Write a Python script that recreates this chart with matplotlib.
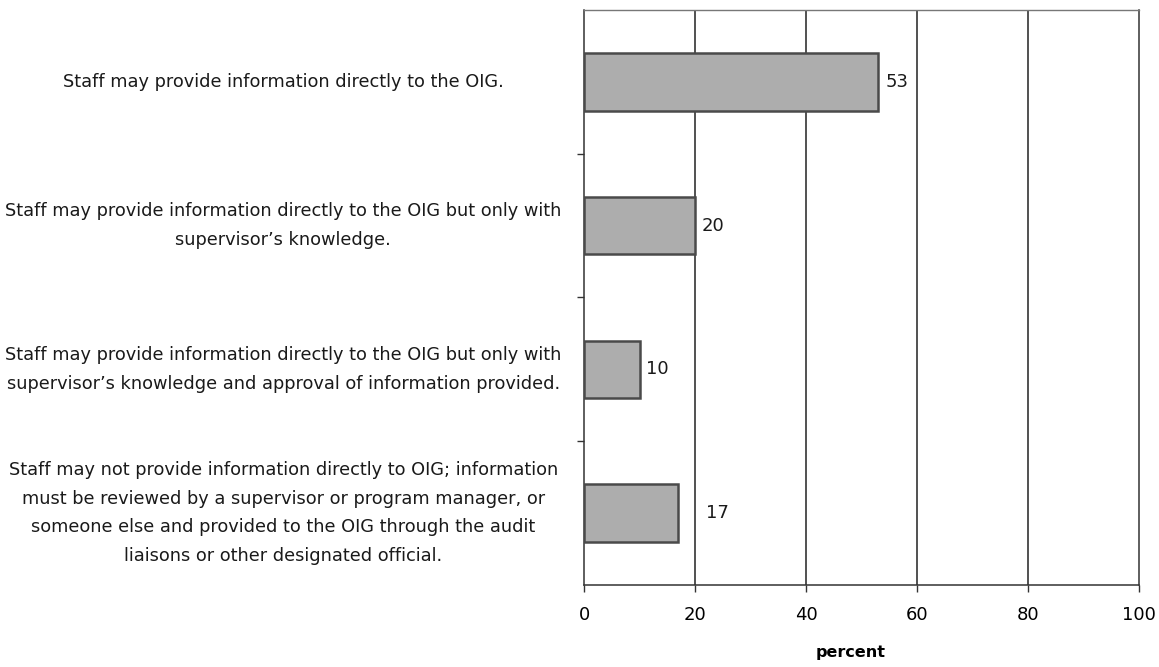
import matplotlib.pyplot as plt
from matplotlib.transforms import blended_transform_factory

plt.rcParams['font.family'] = ['DejaVu Sans']

# survey answers, top to bottom
respuestas = [
    'Staff may provide information directly to the OIG.',
    'Staff may provide information directly to the OIG but only with\nsupervisor\u2019s knowledge.',
    'Staff may provide information directly to the OIG but only with\nsupervisor\u2019s knowledge and approval of information provided.',
    'Staff may not provide information directly to OIG; information\nmust be reviewed by a supervisor or program manager, or\nsomeone else and provided to the OIG through the audit\nliaisons or other designated official.',
]
porcentajes = [53, 20, 10, 17]
ticks_x = [0, 20, 40, 60, 80, 100]

fig = plt.figure(figsize=(11.59, 6.67), dpi=100)
ax = fig.add_axes([0.5039, 0.123, 0.4788, 0.862])

posiciones = list(range(len(respuestas)))
ax.barh(posiciones, porcentajes, height=0.4, color='#adadad',
        edgecolor='#4a4a4a', linewidth=1.8, zorder=3)

ax.set_xlim(0, 100)
ax.set_ylim(len(respuestas) - 0.5, -0.5)
ax.set_xticks(ticks_x)
ax.set_xticklabels([str(t) for t in ticks_x], fontsize=13)
ax.tick_params(axis='x', length=5, width=1, color='#333333', pad=10)

# separadores entre categorias en el eje y
ax.set_yticks([p + 0.5 for p in posiciones[:-1]])
ax.set_yticklabels([])
ax.tick_params(axis='y', length=5, width=1, color='#333333')

for x in ticks_x[1:-1]:
    ax.axvline(x, color='#222222', linewidth=1.1, zorder=1)

for lado in ['left', 'bottom', 'right']:
    ax.spines[lado].set_color('#333333')
    ax.spines[lado].set_linewidth(1.1)
ax.spines['top'].set_color('#777777')
ax.spines['top'].set_linewidth(1.0)

# textos de las categorias, centrados a la izquierda
trans = blended_transform_factory(ax.transAxes, ax.transData)
for p, texto in zip(posiciones, respuestas):
    ax.text(-0.542, p, texto, transform=trans, ha='center', va='center',
            fontsize=12.8, linespacing=1.75, color='#1a1a1a')

# valores al final de cada barra
separacion = [5, 5, 5, 20]
for p, v, s in zip(posiciones, porcentajes, separacion):
    ax.annotate(str(v), (v, p), xytext=(s, 0), textcoords='offset points',
                ha='left', va='center', fontsize=13, color='#1a1a1a')

ax.set_xlabel('percent', fontsize=11.5, fontweight='bold')
ax.xaxis.set_label_coords(0.48, -0.104)

fig.savefig('out.png', dpi=100)
plt.close(fig)
